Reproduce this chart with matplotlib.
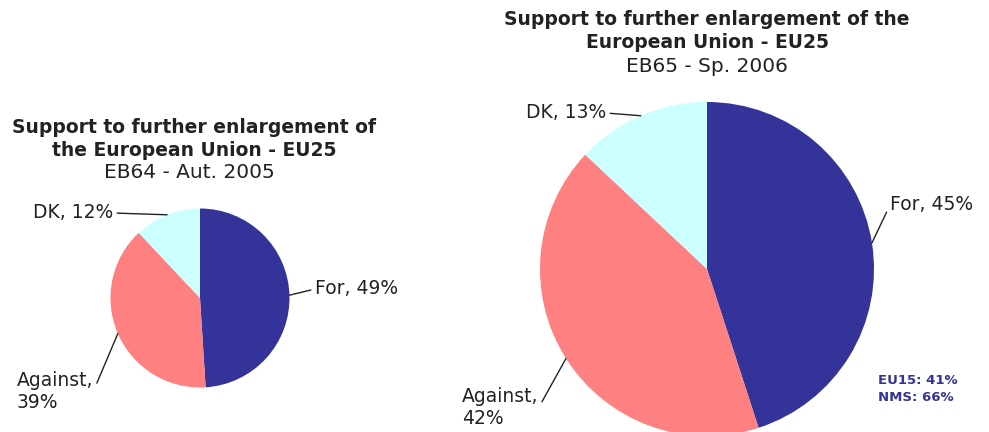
import matplotlib.pyplot as plt
import numpy as np

# data
labels = ["For", "Against", "DK"]
colors = ["#333399", "#FF8080", "#CCFFFF"]
aut2005 = [49, 39, 12]
sp2006 = [45, 42, 13]
title_main = "Support to further enlargement of\nthe European Union - EU25"
title_big = "Support to further enlargement of the\nEuropean Union - EU25"
sub_small = "EB64 - Aut. 2005"
sub_big = "EB65 - Sp. 2006"
split_labels = ["EU15: 41%", "NMS: 66%"]

W, H = 989, 432
fig = plt.figure(figsize=(W / 100, H / 100), dpi=100)
ax = fig.add_axes([0, 0, 1, 1])


def draw(vals, cx, cy, r, label_pos):
    # cy given in pixel coords from top
    cy = H - cy
    wedges, _ = ax.pie(vals, colors=colors, startangle=90, counterclock=False,
                       center=(cx, cy), radius=r,
                       wedgeprops=dict(linewidth=0))
    for w, lab, v, (tx, ty, ha, rel) in zip(wedges, labels, vals, label_pos):
        ang = np.deg2rad((w.theta1 + w.theta2) / 2)
        px, py = cx + r * np.cos(ang), cy + r * np.sin(ang)
        txt = f"{lab}, {v}%" if lab != "Against" else f"{lab},\n{v}%"
        ax.annotate(txt, xy=(px, py), xytext=(tx, H - ty), ha=ha, va="center",
                    fontsize=13.5, color="#222222", linespacing=1.2,
                    arrowprops=dict(arrowstyle="-", color="#222222", lw=1,
                                    shrinkA=1, shrinkB=0, relpos=rel))


draw(aut2005, 200, 298, 89.5,
     [(315, 289, "left", (0, 0.5)),
      (17, 391, "left", (1, 0.5)),
      (113, 213, "right", (1, 0.5))])
draw(sp2006, 707, 269, 167,
     [(890, 205, "left", (0, 0.5)),
      (462, 408, "left", (1, 0.5)),
      (606, 113, "right", (1, 0.5))])

ax.text(194, H - 139, title_main, ha="center", va="center", fontsize=13.5,
        fontweight="bold", color="#222222", linespacing=1.22)
ax.text(189, H - 172, sub_small, ha="center", va="center", fontsize=14.5,
        color="#222222")
ax.text(707, H - 31, title_big, ha="center", va="center", fontsize=13.5,
        fontweight="bold", color="#222222", linespacing=1.22)
ax.text(707, H - 66, sub_big, ha="center", va="center", fontsize=14.5,
        color="#222222")
ax.text(878, H - 389, "\n".join(split_labels), ha="left", va="center",
        fontsize=9.5, fontweight="bold", color="#333399", linespacing=1.35)

ax.set_xlim(0, W)
ax.set_ylim(0, H)
ax.set_aspect("auto")
ax.axis("off")

fig.savefig("out.png", dpi=100, facecolor="white")
